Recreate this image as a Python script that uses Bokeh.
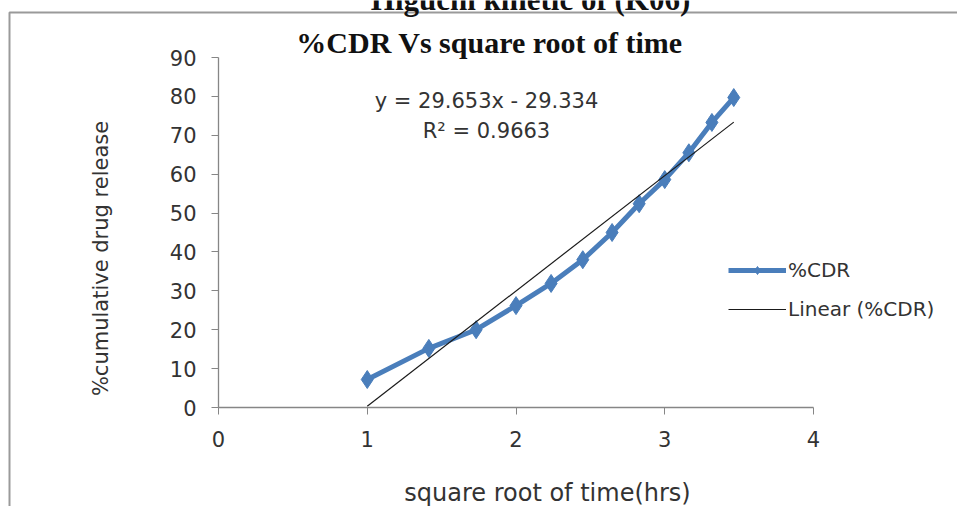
import math
from bokeh.plotting import figure
from bokeh.models import Range1d, Label, Legend, LegendItem, FixedTicker, LinearAxis
from bokeh.embed import file_html
from bokeh.resources import INLINE

# data
sqrt_time = [1.0, 1.414, 1.732, 2.0, 2.236, 2.449, 2.646, 2.828, 3.0, 3.162, 3.317, 3.464]
cdr = [7.2, 15.2, 20.0, 26.2, 31.9, 38.0, 45.0, 52.4, 58.6, 65.5, 73.3, 79.7]
slope = 29.653
intercept = -29.334
r_squared = 0.9663
x_ticks = [0, 1, 2, 3, 4]
y_ticks = [0, 10, 20, 30, 40, 50, 60, 70, 80, 90]
x_min, x_max = 0, 4
y_min, y_max = 0, 90

W, H = 957, 506
AL, AR, AT, AB = 218, 813, 57, 407  # plot-area pixel box


def px2x(px):
    return x_min + (px - AL) / (AR - AL) * (x_max - x_min)


def py2y(py):
    return y_min + (AB - py) / (AB - AT) * (y_max - y_min)


p = figure(width=W, height=H, output_backend="svg", toolbar_location=None,
           x_range=Range1d(px2x(0), px2x(W)), y_range=Range1d(py2y(H), py2y(0)),
           x_axis_location=None, y_axis_location=None,
           min_border=0)
p.outline_line_color = None
p.grid.visible = False
p.background_fill_color = "white"
p.border_fill_color = "white"

# chart-area border (decoration, drawn in pixel positions converted to data space)
p.line(x=[px2x(9), px2x(9), px2x(W + 20)], y=[py2y(H + 20), py2y(12), py2y(12)],
       line_color="#9a9a9a", line_width=2)

font = "DejaVu Sans"
xaxis = LinearAxis(fixed_location=y_min, bounds=(x_min, x_max), ticker=FixedTicker(ticks=x_ticks))
yaxis = LinearAxis(fixed_location=x_min, bounds=(y_min, y_max), ticker=FixedTicker(ticks=y_ticks))
for ax in (xaxis, yaxis):
    ax.axis_line_color = "#868686"
    ax.axis_line_width = 1.3
    ax.major_tick_line_color = "#868686"
    ax.minor_tick_line_color = None
    ax.major_tick_out = 7
    ax.major_tick_in = 0
    ax.major_label_text_font = font
    ax.major_label_text_font_size = "21px"
    ax.major_label_text_color = "#333333"
xaxis.major_label_standoff = 16
yaxis.major_label_standoff = 15
p.add_layout(xaxis, "below")
p.add_layout(yaxis, "left")

blue = "#4a7ebb"
ln = p.line(sqrt_time, cdr, line_color=blue, line_width=5)
sc = p.scatter(sqrt_time, cdr, marker="diamond", size=18, fill_color=blue, line_color=blue)
tx = [sqrt_time[0], sqrt_time[-1]]
ty = [slope * v + intercept for v in tx]
tl = p.line(tx, ty, line_color="#1a1a1a", line_width=1.2)

legend = Legend(items=[LegendItem(label="%CDR", renderers=[ln, sc]),
                       LegendItem(label="Linear (%CDR)", renderers=[tl])],
                location=(728, H - 321), glyph_width=58, glyph_height=20,
                label_text_font=font, label_text_font_size="20px",
                label_text_color="#333333", spacing=15, padding=6,
                border_line_color=None, background_fill_alpha=0, label_standoff=2)
p.add_layout(legend, "center")

# axis titles
p.add_layout(Label(x=px2x(547), y=py2y(492), text="square root of time(hrs)",
                   text_font=font, text_font_size="24px", text_align="center",
                   text_baseline="middle", text_color="#333333"))
p.add_layout(Label(x=px2x(100), y=py2y(258), text="%cumulative drug release",
                   angle=math.pi / 2, text_font=font, text_font_size="21px",
                   text_align="center", text_baseline="middle", text_color="#333333"))

# titles
p.add_layout(Label(x=px2x(489), y=py2y(42), text="%CDR Vs square root of time",
                   text_font="Liberation Serif", text_font_style="bold",
                   text_font_size="30px", text_align="center", text_baseline="middle",
                   text_color="#111111"))
p.add_layout(Label(x=px2x(530), y=py2y(-1), text="Higuchi kinetic of (K06)",
                   text_font="Liberation Serif", text_font_style="bold",
                   text_font_size="31px", text_align="center", text_baseline="alphabetic",
                   text_color="#111111"))

# trendline equation
p.add_layout(Label(x=px2x(486), y=py2y(100), text="y = 29.653x - 29.334",
                   text_font=font, text_font_size="21px", text_align="center",
                   text_baseline="middle", text_color="#333333"))
p.add_layout(Label(x=px2x(486), y=py2y(130), text="R² = 0.9663",
                   text_font=font, text_font_size="21px", text_align="center",
                   text_baseline="middle", text_color="#333333"))

open("out.html", "w").write(file_html(p, INLINE))
